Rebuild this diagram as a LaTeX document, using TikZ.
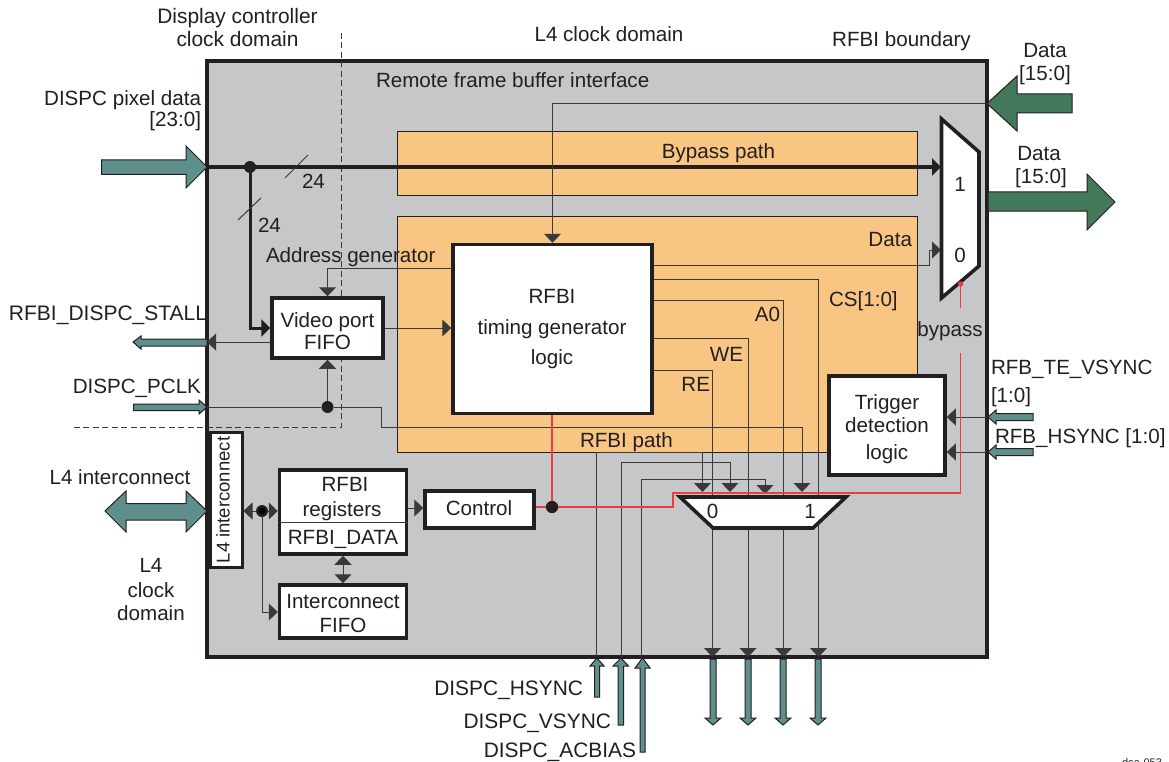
\documentclass[tikz,border=0pt]{standalone}
\usepackage{fontspec}
\setmainfont{Liberation Sans}
\usetikzlibrary{arrows.meta}
\definecolor{ink}{HTML}{231F20}
\definecolor{wirec}{HTML}{3A3839}
\definecolor{panel}{HTML}{C6C7C9}
\definecolor{pathfill}{HTML}{F8C583}
\definecolor{tealf}{HTML}{5F8F8C}
\definecolor{greenf}{HTML}{43785A}
\definecolor{redw}{HTML}{EE3B43}
\tikzset{
  txt/.style={inner sep=0pt,outer sep=0pt,text=ink,font=\fontsize{20.6}{24}\selectfont},
  wide/.style={font=\fontsize{20.9}{24}\selectfont},
  lbl/.style={txt,anchor=base},
  lblw/.style={txt,anchor=base west},
  lble/.style={txt,anchor=base east},
  block/.style={draw=ink,fill=white,line width=3.5pt,inner sep=0pt,align=center,text=ink},
  wire/.style={draw=wirec,line width=1pt},
  tiph/.style={-{Triangle[length=9pt,width=17pt]}},
  tiphh/.style={{Triangle[length=9pt,width=17pt]}-{Triangle[length=9pt,width=17pt]}},
  redwire/.style={draw=redw,line width=1.2pt},
  bus/.style={draw=ink,line width=3.6pt},
  jdot/.style={circle,fill=ink,draw=none,minimum size=12pt,inner sep=0pt},
  tealar/.style={draw=ink,line width=1pt,fill=tealf},
  greenar/.style={draw=ink,line width=1pt,fill=greenf},
  patharea/.style={draw=ink,line width=0.9pt,fill=pathfill},
  muxshape/.style={draw=ink,line width=3.6pt,fill=white,line join=miter},
  domainline/.style={draw=wirec,line width=1pt,dash pattern=on 6pt off 3.5pt}
}
\begin{document}
\begin{tikzpicture}[x=1pt,y=-1pt]
\useasboundingbox (0,0) rectangle (1169,762);
\clip (0,0) rectangle (1169,762);
\fill[white] (0,0) rectangle (1169,762);
% panels
\draw[draw=ink,line width=3.6pt,fill=panel] (207,61) rectangle (987,657);
\draw[patharea] (397,131.5) rectangle (917,195);
\draw[patharea] (397,216) rectangle (917,452);
% clock domain boundary
\coordinate (dtop) at (341,33);
\coordinate (dcorner) at (341,427);
\coordinate (dleft) at (73,427);
\draw[domainline] (dtop) -- (dcorner) -- (dleft);
% blocks
\node[block,minimum width=199pt,minimum height=169pt] (timing) at (552.5,329) {};
\node[block,minimum width=111pt,minimum height=60pt] (vfifo) at (327.5,328) {};
\node[block,minimum width=116pt,minimum height=99pt] (trigger) at (887,425.5) {};
\node[block,minimum width=127pt,minimum height=84pt] (regs) at (343,512) {};
\node[block,minimum width=127pt,minimum height=53pt] (ififo) at (343,611.5) {};
\node[block,minimum width=109pt,minimum height=37pt] (control) at (479.5,509.5) {};
\node[block,line width=3pt,minimum width=32pt,minimum height=135pt] (l4box) at (226,499.5) {};
% coordinates for free ends and muxes
\coordinate (pixin) at (207,167);
\coordinate (muxa1) at (941,167);
\coordinate (muxa0) at (941,250);
\coordinate (datain) at (987,103.5);
\coordinate (stallout) at (207,342);
\coordinate (pclkin) at (207,407);
% junctions
\node[jdot] (j1) at (250,167) {};
\node[jdot] (j2) at (327.5,407) {};
\node[jdot] (j3) at (552,507) {};
\node[jdot] (j4) at (262,511) {};
% buses
\draw[bus,-{Triangle[length=9pt,width=17pt]}] (pixin) -- (muxa1);
\draw[bus,line width=3pt,-{Triangle[length=9pt,width=17pt]}] (j1) |- (vfifo.west);
\coordinate (t1a) at (285,178); \coordinate (t1b) at (308,155);
\coordinate (t2a) at (238,220); \coordinate (t2b) at (261,198);
\draw[wire] (t1a) -- (t1b);
\draw[wire] (t2a) -- (t2b);
% thin wires
\draw[wire,tiph] (timing.west |- 0,268) -| (vfifo.north);
\draw[wire,tiph] (vfifo.east |- 0,328) -- (timing.west |- 0,328);
\draw[wire,tiph] (vfifo.west |- 0,342) -- (stallout);
\draw[wire] (pclkin) -- (j2);
\draw[wire,tiph] (j2) -- (vfifo.south);
\coordinate (pc1) at (381,407);
\coordinate (pc2) at (381,427);
\coordinate (pc3) at (802,427);
\coordinate (pc4) at (802,492);
\draw[wire,tiph] (j2) -- (pc1) -- (pc2) -- (pc3) -- (pc4);
\coordinate (dbend1) at (929,265);
\coordinate (dbend2) at (929,250);
\draw[wire,tiph] (timing.east |- 0,265) -- (dbend1) -- (dbend2) -- (muxa0);
\draw[wire,tiph] (datain) -| (timing.north);
% outputs to the bottom
\foreach \nm/\yy/\xx in {cs/279/818.5,az/300.5/783.5,we/338/748,re/370/712.5}{
  \coordinate (\nm b) at (\xx,\yy);
  \coordinate (\nm e) at (\xx,657);
  \draw[wire,tiph] (timing.east |- \nm b) -- (\nm b) -- (\nm e);
}
% sync inputs
\foreach \nm/\xa/\ya/\xb/\yb in {hs/596.5/452/702.5/492,vs/621/462/730/492,ac/641.5/479/765/494}{
  \coordinate (\nm a) at (\xa,657);
  \coordinate (\nm b) at (\xa,\ya);
  \coordinate (\nm c) at (\xb,\ya);
  \coordinate (\nm d) at (\xb,\yb);
  \draw[wire,tiph] (\nm a) -- (\nm b) -- (\nm c) -- (\nm d);
}
% trigger inputs
\coordinate (tin1) at (987,417);
\coordinate (tin2) at (987,452);
\draw[wire,tiph] (tin1) -- (trigger.east |- tin1);
\draw[wire,tiph] (tin2) -- (trigger.east |- tin2);
% register connections
\draw[wire,tiph] (j4) -- (l4box.east |- j4);
\draw[wire,tiph] (j4) -- (regs.west |- j4);
\draw[wire,tiph] (j4) |- (ififo.west |- 0,612);
\draw[wire,tiphh] (regs.south) -- (ififo.north);
\draw[wire,tiph] (regs.east |- 0,508) -- (control.west |- 0,508);
\node[circle,fill=black,draw=none,minimum size=7pt,inner sep=0pt] (j4c) at (262,511) {};
% red control
\coordinate (r1) at (673,507);
\coordinate (r2) at (673,493);
\coordinate (r3) at (960.5,493);
\coordinate (r4) at (960.5,353);
\coordinate (r5) at (960.5,308);
\coordinate (r6) at (960.5,284);
\draw[redwire] (timing.south -| j3) -- (j3);
\draw[redwire] (control.east |- r1) -- (r1) -- (r2) -- (r3) -- (r4);
\draw[redwire] (r5) -- (r6);
\node[jdot] at (j3) (j3b) {};
% muxes
\draw[muxshape] (680,497) -- (846,497) -- (813,528) -- (713,528) -- cycle;
\draw[muxshape] (941.5,119) -- (979,152) -- (979,266) -- (941.5,298) -- cycle;
\node[circle,fill=redw,draw=none,minimum size=5.5pt,inner sep=0pt] (rdot) at (r6) {};
\draw[wire] (regs.west |- 0,522) -- (regs.east |- 0,522);
% big arrows
\draw[tealar] (101.5,160) -- (186,160) -- (186,146) -- (207,167) -- (186,188) -- (186,174.5) -- (101.5,174.5) -- cycle;
\draw[greenar] (987,103.5) -- (1017,76) -- (1017,94) -- (1072,94) -- (1072,113) -- (1017,113) -- (1017,131) -- cycle;
\draw[greenar] (988,192) -- (1087,192) -- (1087,174) -- (1115,202) -- (1087,230) -- (1087,211) -- (988,211) -- cycle;
\draw[tealar] (105,511) -- (126,491) -- (126,503.5) -- (186,503.5) -- (186,491) -- (207,511) -- (186,532) -- (186,520) -- (126,520) -- (126,532) -- cycle;
% small horizontal arrows
\draw[tealar] (207,339) -- (141,339) -- (141,336) -- (133,342) -- (141,349) -- (141,346) -- (207,346) -- cycle;
\draw[tealar] (133.5,404) -- (199,404) -- (199,400) -- (207,407) -- (199,414) -- (199,410.5) -- (133.5,410.5) -- cycle;
\draw[tealar] (1033,413.5) -- (996,413.5) -- (996,410) -- (988,417) -- (996,424) -- (996,420.5) -- (1033,420.5) -- cycle;
\draw[tealar] (1033,448.5) -- (996,448.5) -- (996,445) -- (988,452) -- (996,459) -- (996,455.5) -- (1033,455.5) -- cycle;
% small vertical arrows
\draw[tealar] (597,658) -- (604,666) -- (599.5,666) -- (599.5,697) -- (594.5,697) -- (594.5,666) -- (590,666) -- cycle;
\draw[tealar] (621,658) -- (628.5,666) -- (623.5,666) -- (623.5,725) -- (618,725) -- (618,666) -- (613,666) -- cycle;
\draw[tealar] (642.5,658) -- (650,668) -- (645,668) -- (645,752) -- (640,752) -- (640,668) -- (635,668) -- cycle;
\foreach \xx in {713,748,783,818}{
  \draw[tealar] (\xx-3,659) -- (\xx+3,659) -- (\xx+3,718) -- (\xx+8,718) -- (\xx,725) -- (\xx-8,718) -- (\xx-3,718) -- cycle;
}
% labels
\node[lbl,wide] (a1) at (237.5,24) {Display controller};
\node[lbl,wide] (a2) at (237.5,47) {clock domain};
\node[lbl] (a3) at (609,42) {L4 clock domain};
\node[lbl] (a4) at (901.5,47) {RFBI boundary};
\node[lblw] (a5) at (376,88) {Remote frame buffer interface};
\node[lble] (a6) at (201,106) {DISPC pixel data};
\node[lble] (a7) at (201,127) {[23:0]};
\node[lbl] (a8) at (1045,58) {Data};
\node[lbl] (a9) at (1045,81) {[15:0]};
\node[lbl] (a10) at (1039,161) {Data};
\node[lbl] (a11) at (1041,184) {[15:0]};
\node[lbl] (a12) at (718.5,159) {Bypass path};
\node[lble] (a13) at (912,246) {Data};
\node[lblw] (a14) at (302,189) {24};
\node[lblw] (a15) at (258,232) {24};
\node[lblw] (a16) at (266,262) {Address generator};
\node[lblw,font=\fontsize{21}{24}\selectfont] (a17) at (9,320) {RFBI\_DISPC\_STALL};
\node[lble] (a18) at (201,393) {DISPC\_PCLK};
\node[lbl] (a19) at (327.5,327) {Video port};
\node[lbl] (a20) at (327.5,349) {FIFO};
\node[lbl] (a21) at (552,303) {RFBI};
\node[lbl] (a22) at (552,334) {timing generator};
\node[lbl] (a23) at (552,364) {logic};
\node[lbl] (a24) at (960,191) {1};
\node[lbl] (a25) at (960,262) {0};
\node[lble] (a26) at (780,321) {A0};
\node[lblw] (a27) at (829,306) {CS[1:0]};
\node[lble] (a28) at (743,361) {WE};
\node[lble] (a29) at (710,391) {RE};
\node[lbl] (a30) at (950,336) {bypass};
\node[lblw] (a31) at (991,374) {RFB\_TE\_VSYNC};
\node[lblw] (a32) at (991,402) {[1:0]};
\node[lblw] (a33) at (995,443) {RFB\_HSYNC [1:0]};
\node[lbl] (a34) at (887,409) {Trigger};
\node[lbl] (a35) at (887,432) {detection};
\node[lbl] (a36) at (887,459) {logic};
\node[lblw] (a37) at (580,447) {RFBI path};
\node[lbl] (a38) at (120,484) {L4 interconnect};
\node[lbl] (a39) at (151,572) {L4};
\node[lbl] (a40) at (151,597) {clock};
\node[lbl] (a41) at (151,620) {domain};
\node[lbl] (a42) at (345,491) {RFBI};
\node[lbl] (a43) at (342,516) {registers};
\node[lbl] (a44) at (343,544) {RFBI\_DATA};
\node[lbl] (a45) at (479,515) {Control};
\node[lbl] (a46) at (343,608) {Interconnect};
\node[lbl] (a47) at (343,632) {FIFO};
\node[lble,wide] (a48) at (583,695) {DISPC\_HSYNC};
\node[lble,wide] (a49) at (611,728) {DISPC\_VSYNC};
\node[lble,wide] (a50) at (636,757) {DISPC\_ACBIAS};
\node[lbl] (a51) at (712.5,518) {0};
\node[lbl] (a52) at (810,518) {1};
\node[txt,rotate=90,font=\fontsize{18.5}{22}\selectfont] (a53) at (223,500) {L4 interconnect};
\node[lbl,font=\fontsize{11}{13}\selectfont] (a54) at (1142,766) {dsa-053};
\end{tikzpicture}
\end{document}
